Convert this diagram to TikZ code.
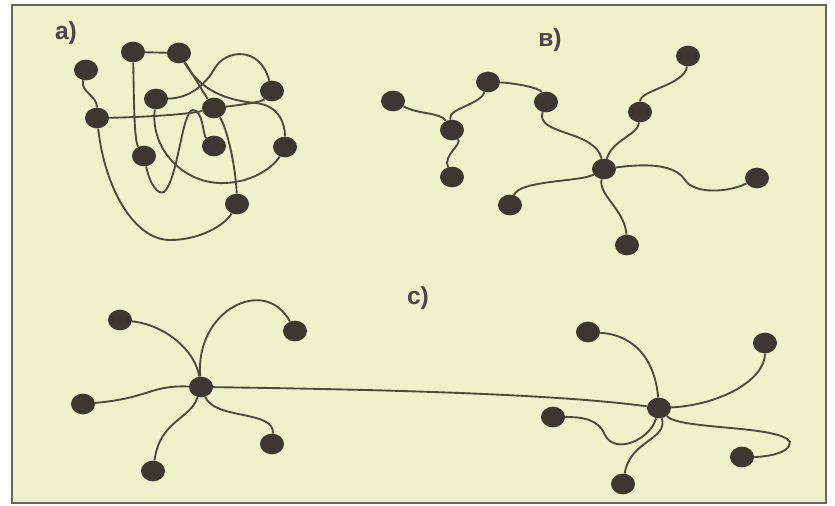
\documentclass[tikz,border=0pt]{standalone}
\usepackage{fontspec}
\setmainfont{Liberation Sans}
\usetikzlibrary{shapes.geometric}
\definecolor{paper}{RGB}{238,241,202}
\definecolor{ink}{RGB}{62,54,48}
\definecolor{wire}{RGB}{78,74,64}

\begin{document}
\begin{tikzpicture}[x=0.03cm, y=-0.03cm,
    dot/.style={ellipse, fill=ink, inner sep=0pt, minimum width=0.72cm, minimum height=0.62cm},
    link/.style={draw=wire, line width=1.6pt},
    lbl/.style={font=\fontsize{21}{24}\selectfont\bfseries, text=black!72}]
  \useasboundingbox (0,0) rectangle (835,506);
  % paper and frame
  \fill[white] (0,0) rectangle (835,506);
  \draw[fill=paper, draw=black!60, line width=1.2pt] (12,5) rectangle (826,503);

  % labels
  \node[lbl] (la) at (66,33) {a)};
  \node[lbl] (lb) at (550,40) {в)};
  \node[lbl] (lc) at (418,298) {c)};

  % a) tangled network
  \node[dot] (A1) at (86,70) {};
  \node[dot] (A2) at (133,52) {};
  \node[dot] (A3) at (179,53) {};
  \node[dot] (A4) at (272,91) {};
  \node[dot] (A5) at (156,99) {};
  \node[dot] (A6) at (214,108) {};
  \node[dot] (A7) at (97,118) {};
  \node[dot] (A8) at (144,156) {};
  \node[dot] (A9) at (214,146) {};
  \node[dot] (A10) at (285,147) {};
  \node[dot] (A11) at (237,204) {};
  \path[link] (A1) .. controls (80,92) and (97,95) .. (A7);
  \path[link] (A7) .. controls (150,117) and (190,114) .. (A6);
  \path[link] (A7) .. controls (105,190) and (135,240) .. (170,240)
                   .. controls (200,240) and (225,225) .. (A11);
  \path[link] (A2) .. controls (134,100) and (134,140) .. (A8);
  \path[link] (A2) -- (A3);
  \path[link] (A8) .. controls (150,185) and (158,195) .. (164,192)
                   .. controls (178,180) and (182,110) .. (193,110)
                   .. controls (203,110) and (203,135) .. (A9);
  \path[link] (A5) .. controls (150,150) and (185,185) .. (225,183)
                   .. controls (255,182) and (275,165) .. (A10);
  \path[link] (A5) .. controls (190,98) and (205,85) .. (215,68)
                   .. controls (225,50) and (260,45) .. (A4);
  \path[link] (A3) .. controls (190,70) and (205,95) .. (A6);
  \path[link] (A3) .. controls (200,90) and (225,100) .. (255,103)
                   .. controls (280,105) and (285,125) .. (A10);
  \path[link] (A6) .. controls (240,105) and (262,102) .. (A4);
  \path[link] (A11) .. controls (236,170) and (228,130) .. (A6);

  % b) tree
  \node[dot] (B1) at (393,101) {};
  \node[dot] (B2) at (488,82) {};
  \node[dot] (B3) at (546,102) {};
  \node[dot] (B4) at (452,130) {};
  \node[dot] (B5) at (452,177) {};
  \node[dot] (B6) at (510,205) {};
  \node[dot] (B7) at (604,169) {};
  \node[dot] (B8) at (640,112) {};
  \node[dot] (B9) at (688,56) {};
  \node[dot] (B10) at (757,178) {};
  \node[dot] (B11) at (627,245) {};
  \path[link] (B1) .. controls (420,115) and (440,112) .. (B4);
  \path[link] (B4) .. controls (448,108) and (480,105) .. (B2);
  \path[link] (B4) .. controls (462,145) and (443,155) .. (B5);
  \path[link] (B2) .. controls (515,83) and (540,88) .. (B3);
  \path[link] (B3) .. controls (535,135) and (595,130) .. (B7);
  \path[link] (B7) .. controls (612,140) and (638,135) .. (B8);
  \path[link] (B8) .. controls (640,90) and (685,85) .. (B9);
  \path[link] (B7) .. controls (650,163) and (675,165) .. (685,180)
                   .. controls (695,195) and (730,192) .. (B10);
  \path[link] (B7) .. controls (580,182) and (520,180) .. (B6);
  \path[link] (B7) .. controls (598,195) and (625,210) .. (B11);

  % c) two stars joined
  \node[dot] (C1) at (120,320) {};
  \node[dot] (C2) at (295,331) {};
  \node[dot] (C3) at (83,404) {};
  \node[dot] (C4) at (201,387) {};
  \node[dot] (C5) at (272,444) {};
  \node[dot] (C6) at (153,471) {};
  \node[dot] (C7) at (588,332) {};
  \node[dot] (C8) at (765,343) {};
  \node[dot] (C9) at (553,417) {};
  \node[dot] (C10) at (659,408) {};
  \node[dot] (C11) at (742,457) {};
  \node[dot] (C12) at (623,484) {};
  \path[link] (C4) .. controls (195,350) and (165,325) .. (C1);
  \path[link] (C4) .. controls (195,310) and (265,275) .. (C2);
  \path[link] (C4) .. controls (150,385) and (150,398) .. (C3);
  \path[link] (C4) .. controls (215,420) and (275,410) .. (C5);
  \path[link] (C4) .. controls (190,420) and (160,420) .. (C6);
  \path[link] (C4) .. controls (350,389) and (550,393) .. (C10);
  \path[link] (C10) .. controls (655,360) and (635,335) .. (C7);
  \path[link] (C10) .. controls (720,405) and (765,380) .. (C8);
  \path[link] (C10) .. controls (650,440) and (615,455) .. (605,435)
                    .. controls (598,418) and (580,417) .. (C9);
  \path[link] (C10) .. controls (668,440) and (630,440) .. (C12);
  \path[link] (C10) .. controls (680,430) and (780,425) .. (790,442)
                    .. controls (790,455) and (760,457) .. (C11);
\end{tikzpicture}
\end{document}
